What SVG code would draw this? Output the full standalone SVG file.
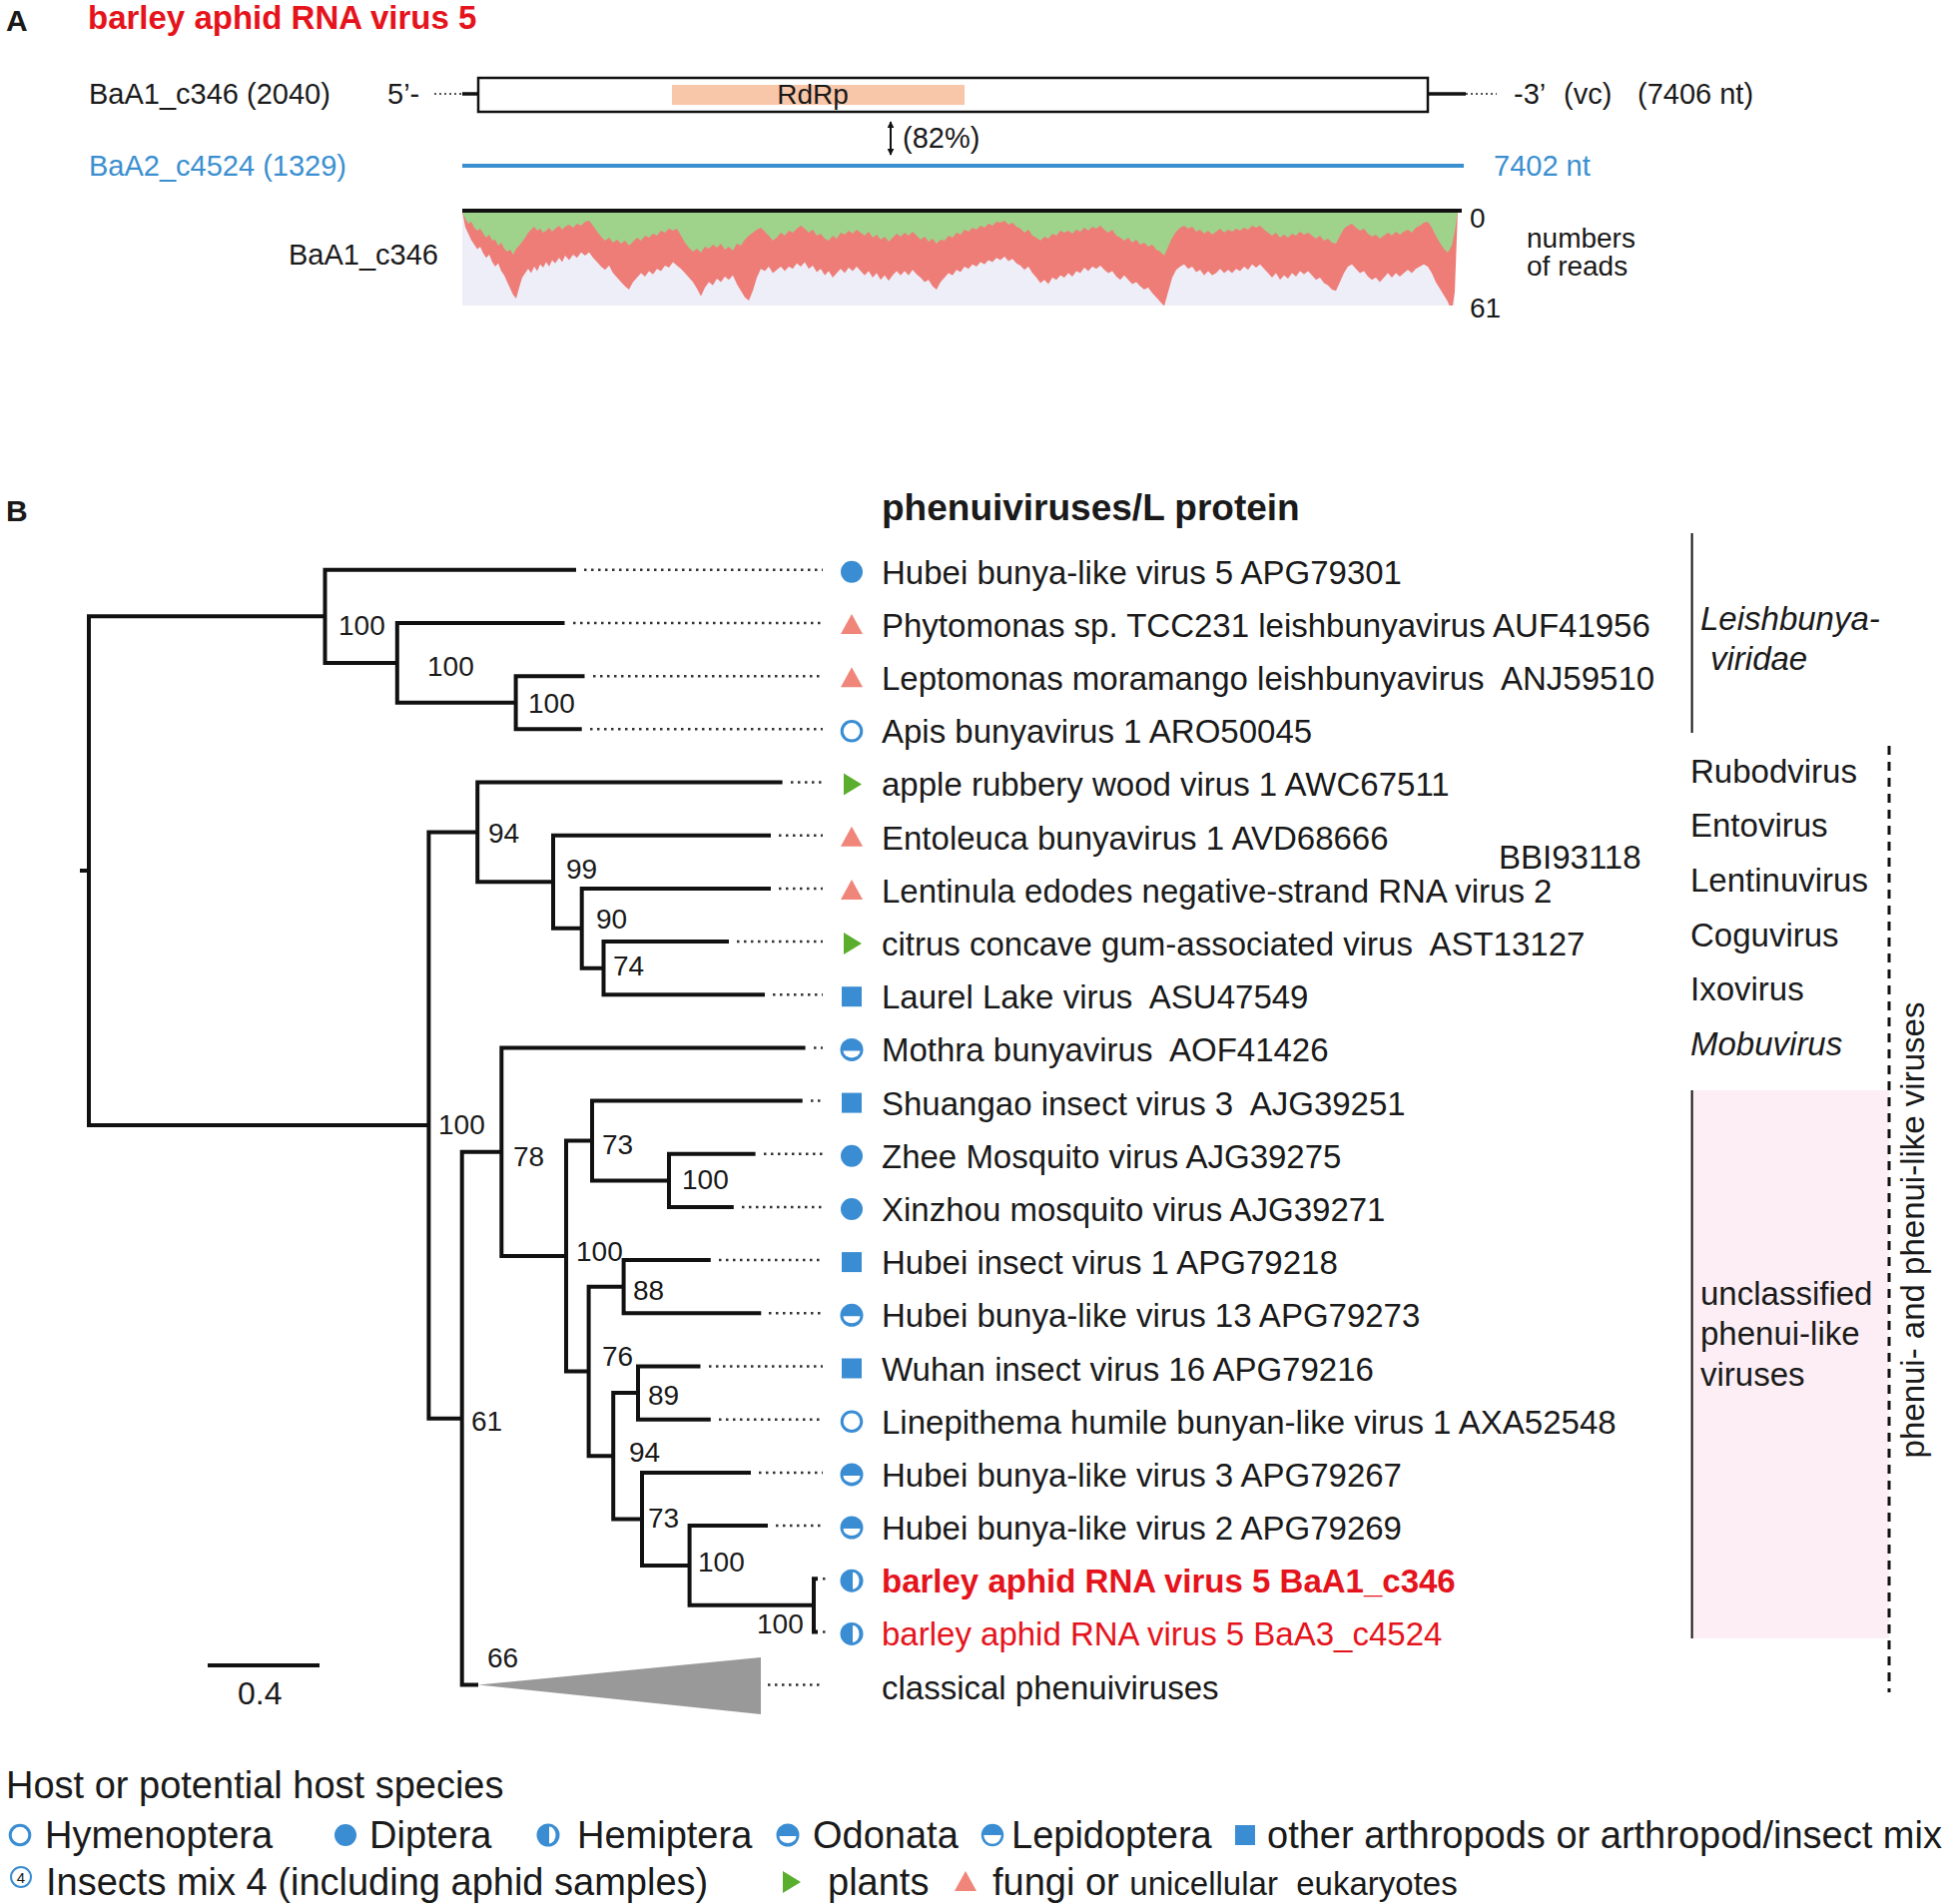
<svg xmlns="http://www.w3.org/2000/svg" width="1961" height="1907" viewBox="0 0 1961 1907">
<style>
text{font-family:"Liberation Sans",Arial,sans-serif;fill:#1a1a1a}
.pa{font-size:29px}
.lbl{font-size:33px}
.bs{font-size:28px}
.lg{font-size:38px}
.red{fill:#E5141C}
.blue{fill:#3B8FD0}
.br{fill:none;stroke:#111;stroke-width:4;stroke-linejoin:miter}
.dot{stroke:#333;stroke-width:2.5;stroke-dasharray:2.5 4.5;fill:none}
.it{font-style:italic}
</style>
<defs>
<marker id="ah" viewBox="0 0 10 10" refX="9" refY="5" markerWidth="7" markerHeight="7" orient="auto-start-reverse" markerUnits="userSpaceOnUse"><path d="M0,0 L10,5 L0,10 Z" fill="#111"/></marker>
<clipPath id="covclip"><rect x="463" y="211" width="998" height="95"/></clipPath>
<g id="s-dip"><circle r="11" fill="#3A8DD3"/></g>
<g id="s-hym"><circle r="9.8" fill="#fff" stroke="#3A8DD3" stroke-width="3"/></g>
<g id="s-hem"><circle r="11.5" fill="#3A8DD3"/><path d="M1,-8.5 A6.5,8.5 0 0 1 1,8.5 Z" fill="#fff"/></g>
<g id="s-odo"><circle r="11.5" fill="#3A8DD3"/><path d="M-8.5,1 A8.5,7 0 0 0 8.5,1 Z" fill="#fff"/></g>
<g id="s-lep"><circle r="10" fill="#fff" stroke="#3A8DD3" stroke-width="2.5"/><path d="M-10,0 A10,10 0 0 1 10,0 Z" fill="#3A8DD3"/></g>
<g id="s-sq"><rect x="-10" y="-10" width="20" height="20" fill="#3A8DD3"/></g>
<g id="s-pl"><path d="M-8,-11 L10,0 L-8,11 Z" fill="#5AAE2E"/></g>
<g id="s-fu"><path d="M0,-11 L11,9 L-11,9 Z" fill="#F0857A"/></g>
</defs>

<!-- Panel A -->
<g id="panelA">
<text x="6" y="31" style="font-size:30px;font-weight:bold">A</text>
<text x="88" y="29" class="red" style="font-size:33px;font-weight:bold">barley aphid RNA virus 5</text>
<text x="89" y="104" class="pa">BaA1_c346 (2040)</text>
<text x="388" y="104" class="pa">5’-</text>
<line x1="435" y1="94" x2="463" y2="94" stroke="#555" stroke-width="2" stroke-dasharray="2 3"/>
<line x1="463" y1="94" x2="479" y2="94" stroke="#111" stroke-width="3.5"/>
<g id="genome"><rect x="479" y="78" width="951" height="34" fill="#fff" stroke="#111" stroke-width="2.5"/>
<rect x="673" y="85" width="293" height="20" fill="#F8C6A8"/>
<text x="814" y="104" class="bs" text-anchor="middle">RdRp</text></g>
<line x1="1430" y1="94" x2="1468" y2="94" stroke="#111" stroke-width="3.5"/>
<line x1="1468" y1="94" x2="1499" y2="94" stroke="#555" stroke-width="2" stroke-dasharray="2 3"/>
<text x="1516" y="104" class="pa">-3’</text>
<text x="1566" y="104" class="pa">(vc)</text>
<text x="1640" y="104" class="pa">(7406 nt)</text>
<line x1="892" y1="122" x2="892" y2="155" stroke="#111" stroke-width="2" marker-start="url(#ah)" marker-end="url(#ah)"/>
<text x="904" y="148" class="pa">(82%)</text>
<text x="89" y="176" class="pa blue">BaA2_c4524 (1329)</text>
<line x1="463" y1="166" x2="1466" y2="166" stroke="#3A8FD0" stroke-width="4"/>
<text x="1496" y="176" class="pa blue">7402 nt</text>
<g id="coverage">
<rect x="463" y="212" width="994" height="94" fill="#EEEEF8"/>
<g clip-path="url(#covclip)">
<polygon transform="translate(0,-21.2) scale(1,1.1)" fill="#EE7D78" points="463,212 466,226 469,232 472,238 475,242 478,246 481,244 484,250 487,254 490,251 493,258 496,262 499,259 502,266 505,270 508,276 511,282 514,288 517,291 520,281 523,272 526,268 529,264 532,268 535,262 538,266 541,260 544,263 547,258 550,262 553,256 556,259 560,254 563,258 566,252 570,256 574,251 578,254 582,249 586,252 590,249 594,254 598,258 602,262 606,265 610,261 614,268 618,272 622,276 626,280 630,283 634,276 638,272 642,268 646,271 650,266 654,269 658,264 662,266 666,261 670,263 674,258 678,261 682,264 686,268 690,272 694,276 698,282 702,289 706,281 710,276 714,279 718,273 722,276 726,271 730,274 734,270 738,278 742,284 746,290 750,293 754,284 758,272 762,264 766,266 770,262 774,268 778,265 782,262 786,266 790,262 794,264 798,259 802,262 806,258 810,264 814,261 818,267 822,264 826,270 830,266 834,272 838,268 842,264 846,268 850,263 854,266 858,262 862,266 866,270 870,266 874,272 878,268 882,274 886,270 890,275 894,270 898,266 902,270 906,266 910,270 914,265 918,269 922,272 926,276 930,274 934,280 938,283 942,276 946,272 950,268 954,270 958,265 962,267 966,262 970,264 974,260 978,262 982,258 986,260 990,256 994,258 998,254 1002,256 1006,253 1010,257 1014,255 1018,259 1022,261 1026,265 1030,262 1034,268 1038,272 1042,277 1046,274 1050,278 1054,272 1058,274 1062,270 1066,272 1070,268 1074,271 1078,266 1082,268 1086,263 1090,266 1094,262 1098,264 1102,261 1106,265 1110,268 1114,266 1118,271 1122,274 1126,270 1130,274 1134,278 1138,276 1142,280 1146,283 1150,281 1154,286 1158,290 1162,294 1166,298 1170,285 1174,272 1178,265 1182,262 1186,260 1190,264 1194,262 1198,267 1202,265 1206,270 1210,266 1214,270 1218,268 1222,264 1226,268 1230,265 1234,268 1238,264 1242,266 1246,262 1250,265 1254,260 1258,263 1262,260 1266,264 1270,268 1274,272 1278,268 1282,274 1286,270 1290,273 1294,268 1298,271 1302,266 1306,269 1310,266 1314,270 1318,274 1322,272 1326,277 1330,279 1334,283 1338,284 1342,276 1346,268 1350,262 1354,260 1358,264 1362,268 1366,266 1370,271 1374,274 1378,272 1382,276 1386,272 1390,268 1394,272 1398,268 1402,271 1406,268 1410,265 1414,268 1418,264 1422,262 1426,260 1430,262 1434,268 1438,276 1442,282 1446,288 1450,294 1454,303 1457,285 1460,212"/>
</g>
<polygon fill="#9FD38C" points="463,212 466,219 469,224 472,222 475,228 478,231 481,229 484,234 487,238 490,235 493,241 496,240 499,246 502,243 505,249 508,252 511,250 514,255 517,249 520,246 523,242 526,238 529,233 532,230 535,227 538,231 541,229 544,233 547,231 550,228 553,232 556,229 560,226 563,230 566,227 570,225 574,228 578,224 582,226 586,222 590,221 594,226 598,232 602,237 606,241 610,238 614,243 618,240 622,244 626,241 630,246 634,242 638,238 642,241 646,236 650,238 654,234 658,236 662,231 666,233 670,229 674,231 678,229 682,236 686,243 690,248 694,252 698,249 702,253 706,247 710,249 714,245 718,248 722,244 726,250 730,247 734,251 738,244 742,246 746,240 750,236 754,233 758,230 762,228 766,232 770,236 774,241 778,238 782,233 786,236 790,231 794,233 798,229 802,226 806,229 810,233 814,230 818,236 822,234 826,239 830,241 834,236 838,239 842,233 846,235 850,231 854,234 858,230 862,233 866,236 870,232 874,238 878,235 882,240 886,237 890,242 894,238 898,234 902,237 906,233 910,236 914,232 918,236 922,240 926,237 930,242 934,239 938,244 942,240 946,241 950,236 954,238 958,233 962,235 966,230 970,232 974,228 978,230 982,226 986,228 990,224 994,226 998,222 1002,223 1006,221 1010,225 1014,223 1018,227 1022,229 1026,233 1030,230 1034,236 1038,238 1042,241 1046,237 1050,239 1054,234 1058,236 1062,231 1066,233 1070,231 1074,234 1078,230 1082,232 1086,228 1090,231 1094,227 1098,229 1102,226 1106,230 1110,233 1114,230 1118,236 1122,238 1126,241 1130,238 1134,243 1138,240 1142,245 1146,243 1150,247 1154,245 1158,250 1162,252 1166,256 1170,247 1174,238 1178,232 1182,228 1186,226 1190,229 1194,227 1198,232 1202,230 1206,234 1210,231 1214,235 1218,232 1222,229 1226,233 1230,230 1234,232 1238,229 1242,231 1246,228 1250,230 1254,226 1258,228 1262,226 1266,230 1270,233 1274,236 1278,233 1282,238 1286,235 1290,238 1294,234 1298,236 1302,232 1306,235 1310,233 1314,236 1318,239 1322,236 1326,241 1330,239 1334,243 1338,244 1342,236 1346,229 1350,226 1354,224 1358,228 1362,231 1366,229 1370,234 1374,237 1378,235 1382,239 1386,236 1390,233 1394,236 1398,232 1402,235 1406,232 1410,230 1414,233 1418,228 1422,226 1426,223 1430,222 1434,228 1438,236 1442,243 1446,249 1450,253 1454,246 1457,232 1460,212"/>
<line x1="463" y1="211" x2="1464" y2="211" stroke="#111" stroke-width="4"/>
</g>
<text x="289" y="265" class="pa">BaA1_c346</text>
<text x="1472" y="228" class="bs">0</text>
<text x="1472" y="318" class="bs">61</text>
<text x="1529" y="248" class="bs">numbers</text>
<text x="1529" y="276" class="bs">of reads</text>
</g>

<!-- Panel B -->
<text x="6" y="522" style="font-size:30px;font-weight:bold">B</text>
<text x="883" y="521" style="font-size:37px;font-weight:bold">phenuiviruses/L protein</text>

<g id="connectors">
<path class="br" d="M325.5 617.3 H89 V1127 H429.4 M80 872 H89"/>
<path class="br" d="M577 570.8 H325.5 V663.9 H397.8"/>
<path class="br" d="M565.5 624 H397.8 V703.7 H516.6"/>
<path class="br" d="M585.5 677.2 H516.6 V730.3 H582.7"/>
<path class="br" d="M478.2 833.4 H429.4 V1420.7 H462.7"/>
<path class="br" d="M783.6 783.5 H478.2 V883.2 H554"/>
<path class="br" d="M772 836.7 H554 V929.8 H582.7"/>
<path class="br" d="M772 889.9 H582.7 V969.7 H604.5"/>
<path class="br" d="M730 943.1 H604.5 V996.2 H766"/>
<path class="br" d="M502.3 1153.7 H462.7 V1687.6 H479"/>
<path class="br" d="M806.6 1049.4 H502.3 V1258 H567"/>
<path class="br" d="M593 1142.5 H567 V1373.5 H589.6"/>
<path class="br" d="M803.7 1102.6 H593 V1182.4 H670"/>
<path class="br" d="M756.6 1155.8 H670 V1209 H734.8"/>
<path class="br" d="M624.6 1288.7 H589.6 V1458.3 H614.2"/>
<path class="br" d="M711.8 1262.1 H624.6 V1315.3 H762.3"/>
<path class="br" d="M639 1395.1 H614.2 V1521.4 H643"/>
<path class="br" d="M701.5 1368.5 H639 V1421.7 H711.8"/>
<path class="br" d="M752 1474.9 H643 V1567.9 H690.6"/>
<path class="br" d="M769 1528 H690.6 V1607.8 H815"/>
<path class="br" d="M819 1581.2 H815 V1634.4 H819"/>
<path d="M479 1687.6 L762 1660 L762 1717 Z" fill="#999"/>
<g class="dot">
<path d="M585 570.8 H824 M574 624 H824 M594 677.2 H824 M591 730.3 H824 M792 783.5 H824 M780 836.7 H824 M780 889.9 H824 M738 943.1 H824 M774 996.2 H824 M815 1049.4 H824 M812 1102.6 H824 M765 1155.8 H824 M743 1209 H824 M720 1262.1 H824 M770 1315.3 H824 M710 1368.5 H824 M720 1421.7 H824 M760 1474.9 H824 M777 1528 H824 M824 1581.2 H828 M824 1634.4 H828 M769 1687.6 H824"/>
</g>
</g>

<g id="bootstrap" class="bs">
<text x="339" y="636" class="bs">100</text>
<text x="428" y="677" class="bs">100</text>
<text x="529" y="714" class="bs">100</text>
<text x="489" y="844" class="bs">94</text>
<text x="567" y="880" class="bs">99</text>
<text x="597" y="930" class="bs">90</text>
<text x="614" y="977" class="bs">74</text>
<text x="439" y="1136" class="bs">100</text>
<text x="514" y="1168" class="bs">78</text>
<text x="603" y="1156" class="bs">73</text>
<text x="683" y="1191" class="bs">100</text>
<text x="577" y="1263" class="bs">100</text>
<text x="634" y="1302" class="bs">88</text>
<text x="603" y="1368" class="bs">76</text>
<text x="649" y="1407" class="bs">89</text>
<text x="630" y="1464" class="bs">94</text>
<text x="649" y="1530" class="bs">73</text>
<text x="699" y="1574" class="bs">100</text>
<text x="758" y="1636" class="bs">100</text>
<text x="472" y="1433" class="bs">61</text>
<text x="488" y="1670" class="bs">66</text>
</g>

<g id="scalebar">
<line x1="208" y1="1668" x2="320" y2="1668" stroke="#111" stroke-width="4"/>
<text x="238" y="1707" style="font-size:32px">0.4</text>
</g>

<g id="tips">
<g id="t1"><use href="#s-dip" x="853" y="572.8"/><text x="883" y="585" class="lbl">Hubei bunya-like virus 5 APG79301</text></g>
<g id="t2"><use href="#s-fu" x="853" y="626"/><text x="883" y="638" class="lbl">Phytomonas sp. TCC231 leishbunyavirus AUF41956</text></g>
<g id="t3"><use href="#s-fu" x="853" y="679.2"/><text x="883" y="691" class="lbl" xml:space="preserve">Leptomonas moramango leishbunyavirus  ANJ59510</text></g>
<g id="t4"><use href="#s-hym" x="853" y="732.3"/><text x="883" y="744" class="lbl">Apis bunyavirus 1 ARO50045</text></g>
<g id="t5"><use href="#s-pl" x="853" y="785.5"/><text x="883" y="797" class="lbl">apple rubbery wood virus 1 AWC67511</text></g>
<g id="t6"><use href="#s-fu" x="853" y="838.7"/><text x="883" y="851" class="lbl">Entoleuca bunyavirus 1 AVD68666</text></g>
<g id="t7"><use href="#s-fu" x="853" y="891.9"/><text x="883" y="904" class="lbl">Lentinula edodes negative-strand RNA virus 2</text></g>
<g id="t8"><use href="#s-pl" x="853" y="945.1"/><text x="883" y="957" class="lbl" xml:space="preserve">citrus concave gum-associated virus  AST13127</text></g>
<g id="t9"><use href="#s-sq" x="853" y="998.2"/><text x="883" y="1010" class="lbl" xml:space="preserve">Laurel Lake virus  ASU47549</text></g>
<g id="t10"><use href="#s-odo" x="853" y="1051.4"/><text x="883" y="1063" class="lbl" xml:space="preserve">Mothra bunyavirus  AOF41426</text></g>
<g id="t11"><use href="#s-sq" x="853" y="1104.6"/><text x="883" y="1117" class="lbl" xml:space="preserve">Shuangao insect virus 3  AJG39251</text></g>
<g id="t12"><use href="#s-dip" x="853" y="1157.8"/><text x="883" y="1170" class="lbl">Zhee Mosquito virus AJG39275</text></g>
<g id="t13"><use href="#s-dip" x="853" y="1211"/><text x="883" y="1223" class="lbl">Xinzhou mosquito virus AJG39271</text></g>
<g id="t14"><use href="#s-sq" x="853" y="1264.1"/><text x="883" y="1276" class="lbl">Hubei insect virus 1 APG79218</text></g>
<g id="t15"><use href="#s-odo" x="853" y="1317.3"/><text x="883" y="1329" class="lbl">Hubei bunya-like virus 13 APG79273</text></g>
<g id="t16"><use href="#s-sq" x="853" y="1370.5"/><text x="883" y="1383" class="lbl">Wuhan insect virus 16 APG79216</text></g>
<g id="t17"><use href="#s-hym" x="853" y="1423.7"/><text x="883" y="1436" class="lbl">Linepithema humile bunyan-like virus 1 AXA52548</text></g>
<g id="t18"><use href="#s-odo" x="853" y="1476.9"/><text x="883" y="1489" class="lbl">Hubei bunya-like virus 3 APG79267</text></g>
<g id="t19"><use href="#s-odo" x="853" y="1530"/><text x="883" y="1542" class="lbl">Hubei bunya-like virus 2 APG79269</text></g>
<g id="t20"><use href="#s-hem" x="853" y="1583.2"/><text x="883" y="1595" class="lbl red" style="font-weight:bold">barley aphid RNA virus 5 BaA1_c346</text></g>
<g id="t21"><use href="#s-hem" x="853" y="1636.4"/><text x="883" y="1648" class="lbl red">barley aphid RNA virus 5 BaA3_c4524</text></g>
<g id="t22"><text x="883" y="1702" class="lbl">classical phenuiviruses</text></g>
</g>

<g id="annotations">
<rect x="1694.6" y="1092" width="197.4" height="549" fill="#FCEEF4"/>
<line x1="1694.6" y1="534" x2="1694.6" y2="734" stroke="#111" stroke-width="2"/>
<line x1="1694.6" y1="1092" x2="1694.6" y2="1641" stroke="#111" stroke-width="2"/>
<line x1="1892" y1="747" x2="1892" y2="1695" stroke="#111" stroke-width="3" stroke-dasharray="9 7"/>
<text x="1703" y="631" class="lbl it">Leishbunya-</text>
<text x="1713" y="671" class="lbl it">viridae</text>
<text x="1693" y="784" class="lbl">Rubodvirus</text>
<text x="1693" y="838" class="lbl">Entovirus</text>
<text x="1693" y="893" class="lbl">Lentinuvirus</text>
<text x="1693" y="948" class="lbl">Coguvirus</text>
<text x="1693" y="1002" class="lbl">Ixovirus</text>
<text x="1693" y="1057" class="lbl it">Mobuvirus</text>
<text x="1501" y="870" class="lbl">BBI93118</text>
<text x="1703" y="1307" class="lbl">unclassified</text>
<text x="1703" y="1347" class="lbl">phenui-like</text>
<text x="1703" y="1388" class="lbl">viruses</text>
<text transform="translate(1927,1232) rotate(-90)" text-anchor="middle" class="lbl">phenui- and phenui-like viruses</text>
</g>

<g id="legend">
<text x="6" y="1801" class="lg">Host or potential host species</text>
<use href="#s-hym" x="20" y="1838"/><text x="45" y="1851" class="lg">Hymenoptera</text>
<use href="#s-dip" x="346" y="1838"/><text x="370" y="1851" class="lg">Diptera</text>
<use href="#s-hem" x="549" y="1838"/><text x="578" y="1851" class="lg">Hemiptera</text>
<use href="#s-odo" x="789" y="1838"/><text x="814" y="1851" class="lg">Odonata</text>
<use href="#s-lep" x="994" y="1838"/><text x="1013" y="1851" class="lg">Lepidoptera</text>
<use href="#s-sq" x="1247" y="1838"/><text x="1269" y="1851" class="lg">other arthropods or arthropod/insect mix</text>
<circle cx="21" cy="1880" r="10" fill="#fff" stroke="#3A8DD3" stroke-width="2"/><text x="21" y="1886" text-anchor="middle" style="font-size:15px">4</text>
<text x="46" y="1898" class="lg">Insects mix 4 (including aphid samples)</text>
<use href="#s-pl" x="792" y="1885"/><text x="829" y="1898" class="lg">plants</text>
<use href="#s-fu" x="967" y="1885"/><text x="994" y="1898" class="lg" xml:space="preserve">fungi or <tspan style="font-size:33px">unicellular  eukaryotes</tspan></text>
</g>
</svg>
